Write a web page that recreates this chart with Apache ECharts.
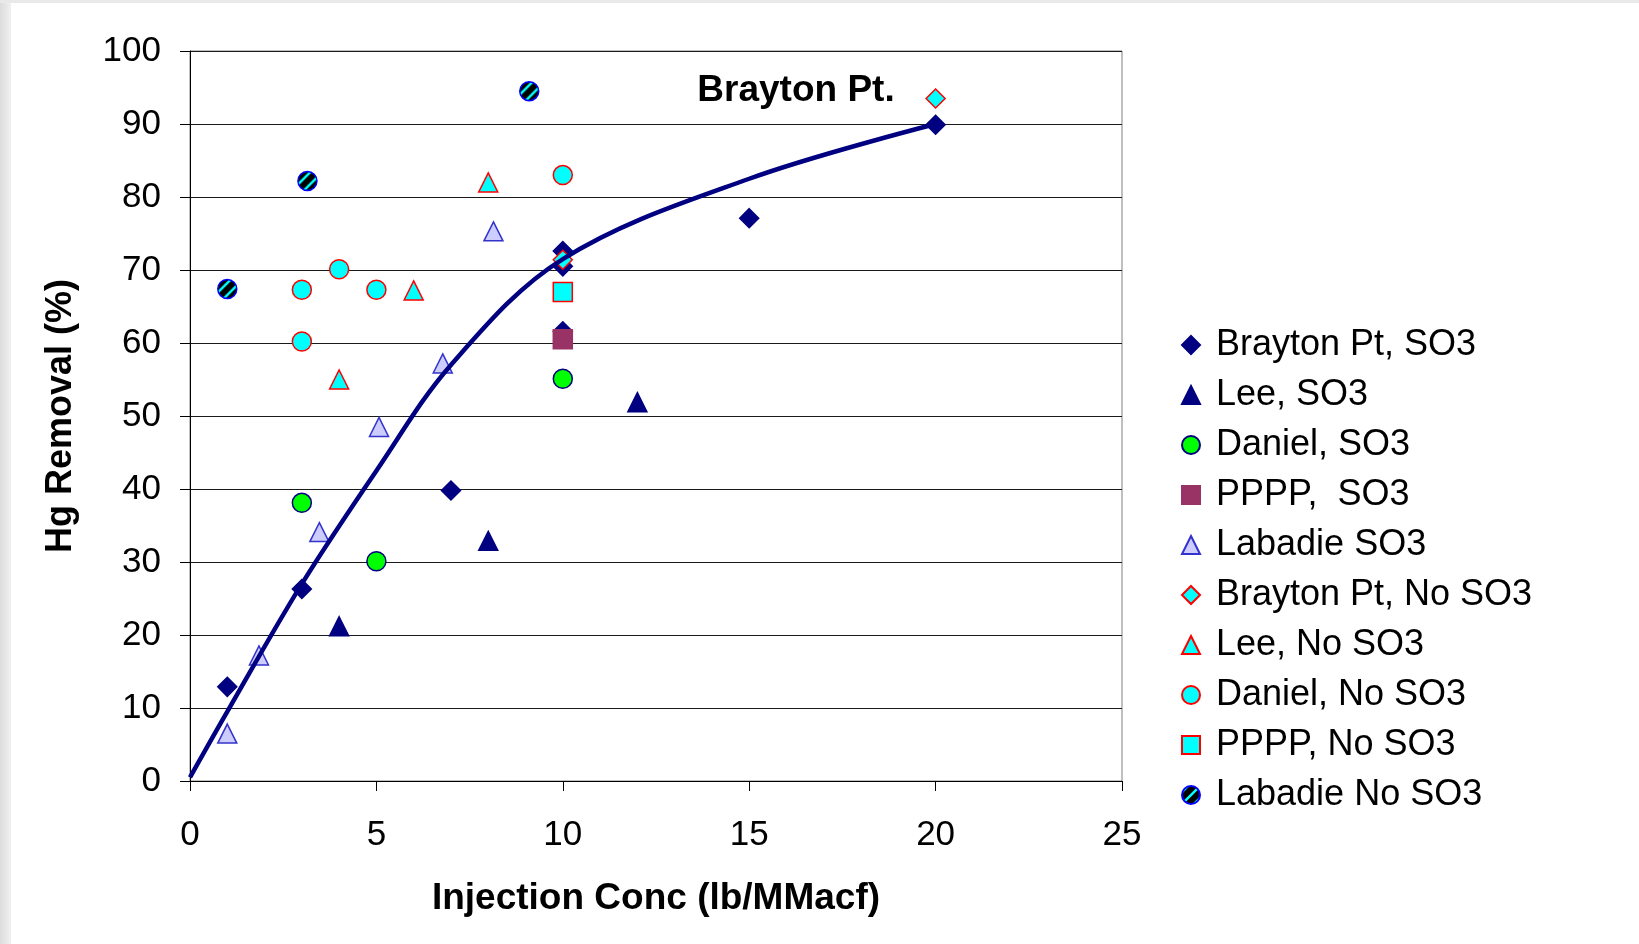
<!DOCTYPE html>
<html>
<head>
<meta charset="utf-8">
<script src="https://cdn.jsdelivr.net/npm/echarts@6/dist/echarts.min.js"></script>
<style>
html, body { margin: 0; padding: 0; }
body {
	background: linear-gradient(#e9e9e9, #e9e9e9) 0 0 / 100% 3px no-repeat,
		linear-gradient(to right, #dcdcdc, #f0f0f0) 0 0 / 11px 100% no-repeat, #fff;
}
#chart { width: 1639px; height: 944px; }
</style>
</head>
<body>
<div id="chart"></div>
<script>
// values
var braytonSo3X = [1, 3, 7, 10, 10, 10, 15, 20];
var braytonSo3Y = [12.9, 26.3, 39.8, 72.6, 70.5, 61.6, 77.1, 89.9];
var leeSo3X = [4, 8, 12];
var leeSo3Y = [21.2, 32.9, 51.9];
var danielSo3X = [3, 5, 10];
var danielSo3Y = [38.1, 30.1, 55.1];
var ppppSo3X = [10];
var ppppSo3Y = [60.5];
var labadieSo3X = [1, 1.85, 3.47, 5.07, 6.78, 8.14];
var labadieSo3Y = [6.5, 17.2, 34.1, 48.5, 57.2, 75.3];
var braytonNoX = [10, 20];
var braytonNoY = [71.4, 93.5];
var leeNoX = [4, 6, 8];
var leeNoY = [55.0, 67.2, 82.0];
var danielNoX = [3, 3, 4, 5, 10];
var danielNoY = [67.3, 60.2, 70.1, 67.3, 83.0];
var ppppNoX = [10];
var ppppNoY = [67.0];
var labadieNoX = [1, 3.15, 9.1];
var labadieNoY = [67.4, 82.2, 94.5];

// Brayton Pt. trend curve
var fitX = [0, 1, 3, 5, 7, 10, 15, 20];
var fitY = [0.5, 9.5, 27, 42.5, 57, 71.5, 82.5, 90];

var yTicks = [0, 10, 20, 30, 40, 50, 60, 70, 80, 90, 100];
var xTicks = [0, 5, 10, 15, 20, 25];

var FONT = '"Liberation Sans", Arial, sans-serif';
var DOT = 19;

function pairs(xs, ys) {
	var out = [];
	for (var i = 0; i < xs.length; i++) out.push([xs[i], ys[i]]);
	return out;
}

function stripes() {
	var c = document.createElement('canvas');
	c.width = 12; c.height = 12;
	var g = c.getContext('2d');
	g.fillStyle = '#00ffff';
	g.fillRect(0, 0, 12, 12);
	g.strokeStyle = '#000';
	g.lineWidth = 6;
	g.beginPath();
	g.moveTo(-6, 6); g.lineTo(6, -6);
	g.moveTo(-2, 14); g.lineTo(14, -2);
	g.moveTo(6, 18); g.lineTo(18, 6);
	g.stroke();
	return c;
}

function dots(name, xs, ys, symbol, fill, border) {
	return {
		name: name,
		type: 'scatter',
		symbol: symbol,
		symbolSize: DOT,
		data: pairs(xs, ys),
		itemStyle: { color: fill, borderColor: border, borderWidth: 1.5, opacity: 1 }
	};
}

var names = ['Brayton Pt, SO3', 'Lee, SO3', 'Daniel, SO3', 'PPPP,  SO3', 'Labadie SO3',
	'Brayton Pt, No SO3', 'Lee, No SO3', 'Daniel, No SO3', 'PPPP, No SO3', 'Labadie No SO3'];

var stripeImg = stripes();
// scatter symbols are drawn scaled by size/2, so the pattern is shrunk to match
var stripeFill = { image: stripeImg, repeat: 'repeat', scaleX: 2 / DOT, scaleY: 2 / DOT };

var legendData = names.map(function (n) { return { name: n }; });
legendData[9].itemStyle = { color: { image: stripeImg, repeat: 'repeat' } };

var chart = echarts.init(document.getElementById('chart'), null, { renderer: 'canvas' });

chart.setOption({
	animation: false,
	backgroundColor: 'transparent',
	grid: { left: 190, top: 51, right: 517, bottom: 163, show: true, borderColor: '#808080', borderWidth: 1 },
	xAxis: {
		type: 'value', min: xTicks[0], max: xTicks[xTicks.length - 1], interval: 5,
		name: 'Injection Conc (lb/MMacf)', nameLocation: 'middle', nameGap: 99,
		nameTextStyle: { fontFamily: FONT, fontSize: 37, fontWeight: 'bold', color: '#000' },
		axisLine: { show: true, lineStyle: { color: '#000', width: 1 } },
		axisTick: { show: true, length: 10, lineStyle: { color: '#000' } },
		axisLabel: { margin: 37, fontFamily: FONT, fontSize: 35, color: '#000' },
		splitLine: { show: false }
	},
	yAxis: {
		type: 'value', min: yTicks[0], max: yTicks[yTicks.length - 1], interval: 10,
		name: 'Hg Removal (%)', nameLocation: 'middle', nameGap: 111,
		nameTextStyle: { fontFamily: FONT, fontSize: 36, fontWeight: 'bold', color: '#000' },
		axisLine: { show: true, lineStyle: { color: '#000', width: 1 } },
		axisTick: { show: true, length: 10, lineStyle: { color: '#000' } },
		axisLabel: { margin: 29, fontFamily: FONT, fontSize: 35, color: '#000' },
		splitLine: { show: true, lineStyle: { color: '#1a1a1a', width: 1 } }
	},
	legend: {
		orient: 'vertical', left: 1176, top: 322,
		itemWidth: 18, itemHeight: 18, itemGap: 14,
		textStyle: { fontFamily: FONT, fontSize: 36, color: '#000', padding: [0, 0, 0, 11] },
		data: legendData
	},
	graphic: [{
		type: 'text', x: 796, y: 91,
		style: { text: 'Brayton Pt.', font: 'bold 37px ' + FONT, fill: '#000', textAlign: 'center', textVerticalAlign: 'middle' }
	}],
	series: [
		{
			name: 'fit', type: 'line', smooth: 0.35, showSymbol: false,
			data: pairs(fitX, fitY),
			lineStyle: { color: '#000080', width: 4.5 }
		},
		dots(names[0], braytonSo3X, braytonSo3Y, 'diamond', '#000080', '#000080'),
		dots(names[1], leeSo3X, leeSo3Y, 'triangle', '#000080', '#000080'),
		dots(names[2], danielSo3X, danielSo3Y, 'circle', '#00ff00', '#000080'),
		dots(names[3], ppppSo3X, ppppSo3Y, 'rect', '#993366', '#993366'),
		dots(names[4], labadieSo3X, labadieSo3Y, 'triangle', '#ccccff', '#3333cc'),
		dots(names[5], braytonNoX, braytonNoY, 'diamond', '#00ffff', '#ff0000'),
		dots(names[6], leeNoX, leeNoY, 'triangle', '#00ffff', '#ff0000'),
		dots(names[7], danielNoX, danielNoY, 'circle', '#00ffff', '#ff0000'),
		dots(names[8], ppppNoX, ppppNoY, 'rect', '#00ffff', '#ff0000'),
		dots(names[9], labadieNoX, labadieNoY, 'circle', stripeFill, '#0000ff')
	]
});
</script>
</body>
</html>
